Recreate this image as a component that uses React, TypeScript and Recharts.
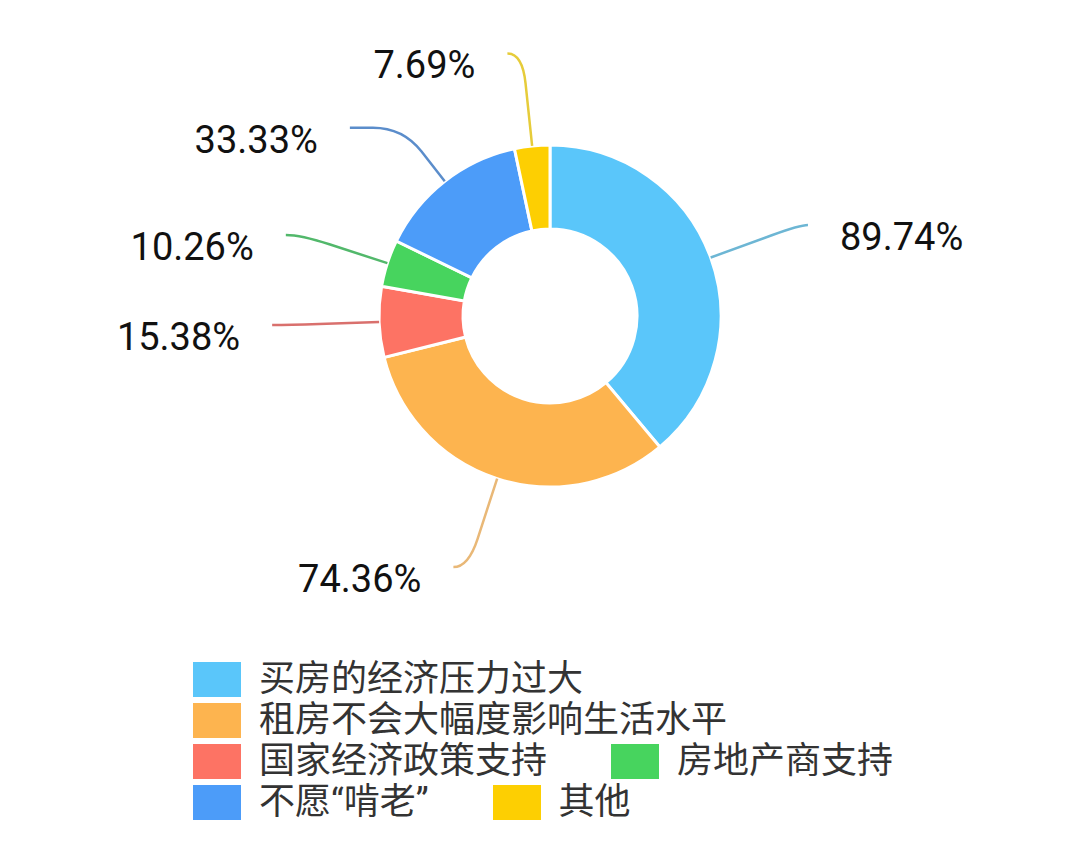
import { PieChart, Pie, Cell, Legend } from "recharts";

const categories = [
  "买房的经济压力过大",
  "租房不会大幅度影响生活水平",
  "国家经济政策支持",
  "房地产商支持",
  "不愿“啃老”",
  "其他",
];
const values = [89.74, 74.36, 15.38, 10.26, 33.33, 7.69];

const colors = ["#5AC6FA", "#FDB44F", "#FD7364", "#47D45E", "#4C9CF9", "#FDCF02"];
const lineColors = ["#6DB6D4", "#E9B877", "#D9706D", "#52B86B", "#5B8DCB", "#E6CC3A"];
// label line: radial length, then horizontal length
const leaderOut = [95, 93, 90, 91, 68, 93];
const leaderSide = [8, 15, 17, 15, 53, 15];

const data = categories.map((name, i) => ({ name, value: values[i] }));

const RAD = Math.PI / 180;

function renderLabel(props: any) {
  const { cx, cy, midAngle, outerRadius, index, value } = props;
  const cos = Math.cos(-midAngle * RAD);
  const sin = Math.sin(-midAngle * RAD);
  const side = cos >= 0 ? 1 : -1;
  const r1 = outerRadius;
  const r2 = outerRadius + leaderOut[index];
  const sx = cx + r1 * cos;
  const sy = cy + r1 * sin;
  const ex = cx + r2 * cos;
  const ey = cy + r2 * sin;
  const fx = ex + side * leaderSide[index];
  const fy = ey;
  const d1 = Math.min(leaderOut[index] * 0.45, 30);
  const d2 = Math.min(leaderSide[index], 30);
  const p1x = ex - d1 * cos;
  const p1y = ey - d1 * sin;
  const p2x = ex + side * d2;
  const path = `M${sx},${sy} L${p1x},${p1y} Q${ex},${ey} ${p2x},${fy} L${fx},${fy}`;
  return (
    <g key={`label-${index}`}>
      <path d={path} fill="none" stroke={lineColors[index]} strokeWidth={2.5} />
      <text
        x={fx + side * 32}
        y={fy + 12}
        textAnchor={side > 0 ? "start" : "end"}
        dominantBaseline="central"
        fill="#111"
        fontSize={38}
        fontFamily="Roboto, 'Noto Sans', sans-serif"
      >
        {`${value.toFixed(2)}%`}
      </text>
    </g>
  );
}

function renderLegend() {
  return (
    <div
      style={{
        display: "flex",
        flexWrap: "wrap",
        width: 720,
        columnGap: 64,
        fontFamily: "Roboto, 'Noto Sans CJK SC', sans-serif",
        fontSize: 36,
        color: "#333",
      }}
    >
      {categories.map((name, i) => (
        <div
          key={name}
          style={{ display: "flex", alignItems: "center", height: 41, whiteSpace: "nowrap" }}
        >
          <span
            style={{
              display: "inline-block",
              width: 48,
              height: 35,
              background: colors[i],
              marginRight: 18,
            }}
          />
          <span
            style={{
              display: "inline-block",
              height: 41,
              lineHeight: "41px",
              overflow: "hidden",
            }}
          >
            {name}
          </span>
        </div>
      ))}
    </div>
  );
}

export default function App() {
  return (
    <div style={{ position: "absolute", left: 0, top: 0, width: 1080, height: 844, background: "#fff" }}>
      <PieChart width={1080} height={844} margin={{ top: 0, right: 0, bottom: 0, left: 0 }}>
        <Pie
          data={data}
          dataKey="value"
          nameKey="name"
          cx={550}
          cy={316}
          innerRadius={87}
          outerRadius={171}
          startAngle={90}
          endAngle={-270}
          stroke="#fff"
          strokeWidth={3}
          label={renderLabel}
          labelLine={false}
          isAnimationActive={false}
        >
          {data.map((d, i) => (
            <Cell key={d.name} fill={colors[i]} />
          ))}
        </Pie>
        <Legend
          content={renderLegend}
          wrapperStyle={{ position: "absolute", left: 193, top: 659, width: 720 }}
        />
      </PieChart>
    </div>
  );
}
